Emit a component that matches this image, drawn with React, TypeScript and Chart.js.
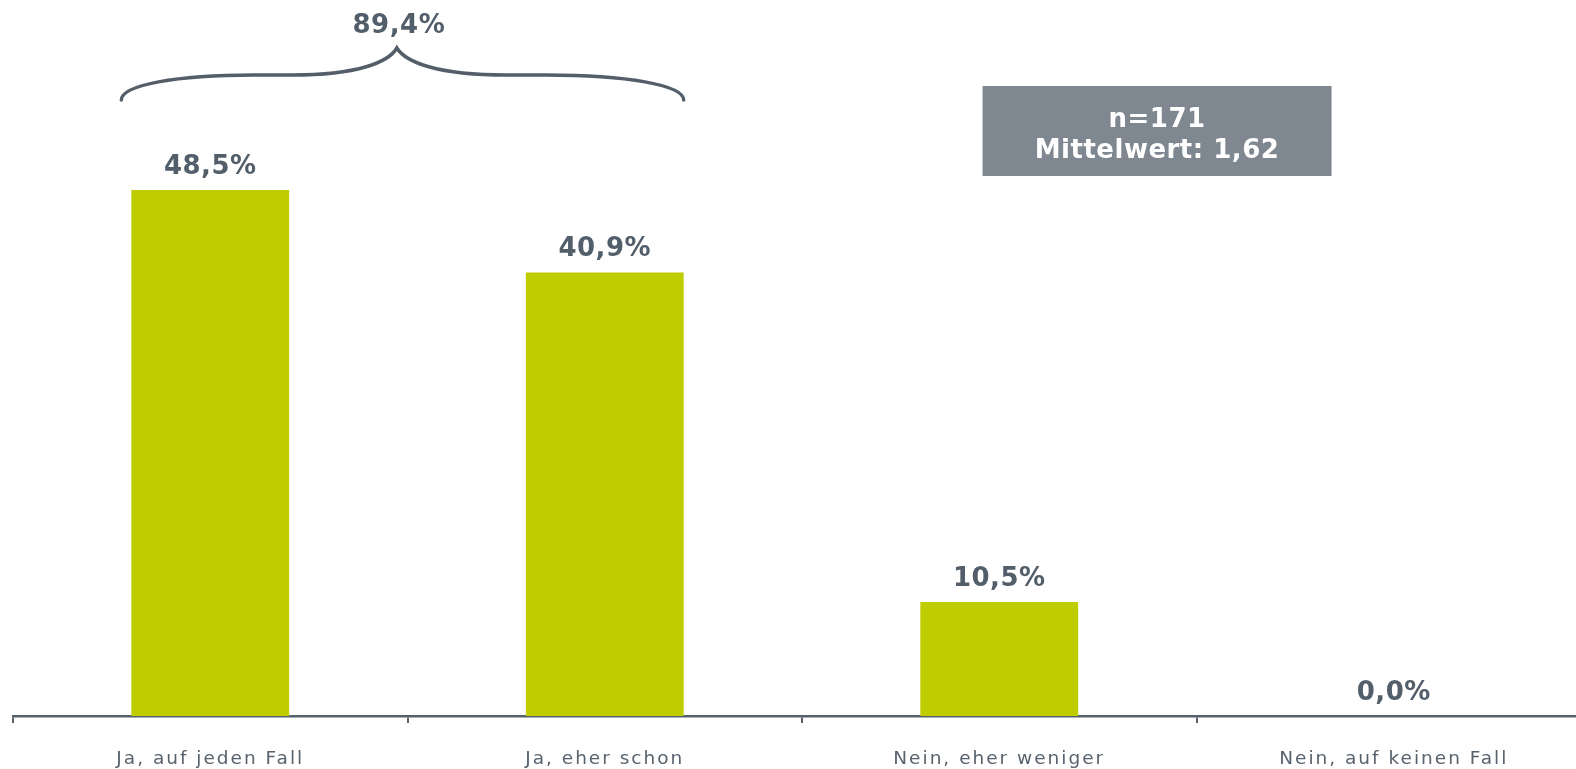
import { useEffect, useRef } from "react";
import { Chart, registerables } from "chart.js";

Chart.register(...registerables);

const categories = ["Ja, auf jeden Fall", "Ja, eher schon", "Nein, eher weniger", "Nein, auf keinen Fall"];
const values = [48.5, 40.9, 10.5, 0.0];
const valueLabels = ["48,5%", "40,9%", "10,5%", "0,0%"];
const braceLabel = "89,4%";
const braceFrom = 0;
const braceTo = 1;
const infoLines = ["n=171", "Mittelwert: 1,62"];

const BAR = "#bfcd00";
const TEXT = "#525e6a";
const AXIS = "#56616c";
const TICK_TEXT = "#58636e";
const BOX = "#7f8790";
const FONT = "'DejaVu Sans', sans-serif";

const overlayPlugin = {
  id: "overlay",
  beforeDraw(chart: any) {
    (chart.ctx as any).letterSpacing = "2px";
  },
  afterDatasetsDraw(chart: any) {
    const ctx = chart.ctx as any;
    const meta = chart.getDatasetMeta(0);
    ctx.save();
    ctx.letterSpacing = "0.5px";
    ctx.fillStyle = TEXT;
    ctx.font = `bold 26px ${FONT}`;
    ctx.textAlign = "center";
    ctx.textBaseline = "alphabetic";
    meta.data.forEach((bar: any, i: number) => {
      ctx.fillText(valueLabels[i], bar.x, bar.y - 16);
    });

    // brace
    const b0 = meta.data[braceFrom];
    const b1 = meta.data[braceTo];
    const L = b0.x - b0.width / 2 - 10;
    const R = b1.x + b1.width / 2;
    const T = L + 0.49 * (R - L);
    const top = chart.chartArea.top;
    const yEnd = top + 89;
    const yFlat = top + 64;
    const yTip = top + 37;
    const hl = T - L;
    const hr = R - T;
    ctx.strokeStyle = "#535e69";
    ctx.lineWidth = 3.5;
    ctx.lineCap = "round";
    ctx.beginPath();
    ctx.moveTo(L, yEnd);
    ctx.bezierCurveTo(L, yFlat + 10, L + 0.2 * hl, yFlat, L + 0.48 * hl, yFlat);
    ctx.lineTo(L + 0.62 * hl, yFlat);
    ctx.bezierCurveTo(L + 0.86 * hl, yFlat, T - 0.03 * hl, yTip + 14, T, yTip);
    ctx.bezierCurveTo(T + 0.03 * hr, yTip + 14, T + 0.14 * hr, yFlat, T + 0.38 * hr, yFlat);
    ctx.lineTo(T + 0.52 * hr, yFlat);
    ctx.bezierCurveTo(T + 0.8 * hr, yFlat, R, yFlat + 10, R, yEnd);
    ctx.stroke();
    ctx.fillText(braceLabel, T + 2, top + 22);

    // info box
    const xs = chart.scales.x;
    const x2 = xs.getPixelForTick(2);
    const x3 = xs.getPixelForTick(3);
    const cx = x2 + 0.4 * (x3 - x2);
    const w = 349;
    const h = 90;
    const by = top + 75;
    ctx.fillStyle = BOX;
    ctx.fillRect(cx - w / 2, by, w, h);
    ctx.fillStyle = "#ffffff";
    ctx.fillText(infoLines[0], cx, by + 41);
    ctx.fillText(infoLines[1], cx, by + 72);
    ctx.restore();
  },
};

export default function App() {
  const ref = useRef<HTMLCanvasElement | null>(null);
  useEffect(() => {
    if (!ref.current) return;
    const chart = new Chart(ref.current, {
      type: "bar",
      data: {
        labels: categories,
        datasets: [
          {
            data: values,
            backgroundColor: BAR,
            borderWidth: 0,
            barPercentage: 0.8,
            categoryPercentage: 0.5,
          },
        ],
      },
      options: {
        animation: false,
        responsive: false,
        layout: { padding: { left: 13, right: 9, top: 11, bottom: 0 } },
        plugins: { legend: { display: false }, tooltip: { enabled: false } },
        scales: {
          x: {
            offset: true,
            afterFit: (scale: any) => {
              scale.height = 53;
            },
            grid: {
              display: true,
              offset: true,
              drawOnChartArea: false,
              drawTicks: true,
              tickLength: 7,
              color: AXIS,
              lineWidth: 2,
            },
            border: { display: true, color: AXIS, width: 2.5 },
            ticks: {
              color: TICK_TEXT,
              padding: 25,
              font: { family: FONT, size: 18.5 },
              maxRotation: 0,
              autoSkip: false,
            },
          },
          y: {
            display: false,
            min: 0,
            max: 65,
          },
        },
      },
      plugins: [overlayPlugin],
    });
    return () => chart.destroy();
  }, []);
  return (
    <div style={{ position: "fixed", left: 0, top: 0, width: 1576, height: 769, overflow: "hidden", background: "#fff" }}>
      <canvas ref={ref} width={1600} height={769} style={{ width: 1600, height: 769, display: "block" }} />
    </div>
  );
}
